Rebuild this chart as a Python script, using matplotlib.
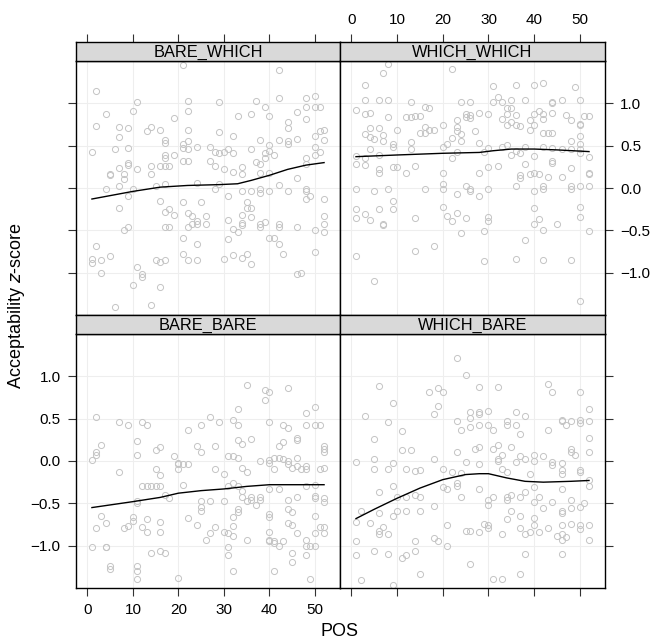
"Acceptability z-score by POS, four conditions"
import numpy as np
import matplotlib
matplotlib.use("Agg")
from matplotlib import pyplot as plt

plt.rcParams['font.family'] = ['Liberation Sans', 'DejaVu Sans']

# panel data: (POS, z-score)
bare_which = [
    (21,1.45),(42,1.39),
    (2,1.14),(42,1.06),(11,1.02),(22,1.03),(29,1.02),(37,1.03),(48,1.06),(50,1.09),(39,0.96),(48,0.96),(50,0.96),(51,0.96),
    (4,0.87),(10,0.91),(22,0.91),(33,0.85),(36,0.87),(40,0.85),(46,0.90),(48,0.81),(19,0.83),(44,0.78),(44,0.71),
    (2,0.73),(7,0.72),(9,0.71),(13,0.67),(14,0.72),(16,0.68),(22,0.69),(29,0.66),(32,0.61),(7,0.60),(17,0.57),(17,0.53),
    (21,0.52),(22,0.55),(38,0.57),(40,0.51),(42,0.57),(44,0.55),(44,0.52),(46,0.58),(50,0.61),(51,0.67),(52,0.68),(52,0.57),
    (1,0.42),(6,0.46),(9,0.47),(19,0.39),(17,0.39),(21,0.47),(22,0.46),(24,0.48),(27,0.48),(28,0.42),(29,0.41),(30,0.42),
    (31,0.46),(32,0.41),(36,0.46),(39,0.41),(40,0.44),(41,0.39),(50,0.48),(50,0.39),(51,0.43),
    (17,0.35),(21,0.32),(22,0.32),(27,0.32),(28,0.26),(30,0.23),(37,0.31),(38,0.28),(39,0.36),(48,0.35),(48,0.28),
    (7,0.24),(9,0.30),(9,0.27),(11,0.22),(14,0.26),(16,0.26),(17,0.26),(18,0.26),(5,0.17),(5,0.15),(8,0.17),(8,0.11),
    (14,0.17),(32,0.19),(34,0.25),(34,0.17),(38,0.18),(40,0.18),(46,0.12),
    (4,-0.01),(7,0.02),(10,-0.01),(9,-0.10),(15,0.02),(17,0.05),(24,0.06),(28,-0.01),(29,0.05),(31,-0.09),(34,-0.04),
    (36,-0.04),(38,-0.01),(38,-0.06),(40,-0.04),(42,0.04),(44,-0.04),(48,-0.01),(48,-0.04),(48,-0.13),(49,-0.09),(52,-0.13),
    (7,-0.24),(16,-0.15),(17,-0.28),(18,-0.25),(19,-0.32),(21,-0.17),(22,-0.30),(23,-0.33),(24,-0.39),(24,-0.42),(23,-0.43),
    (22,-0.46),(25,-0.17),(26,-0.33),(26,-0.42),(17,-0.46),(18,-0.46),(31,-0.38),(32,-0.48),(33,-0.52),(34,-0.44),(34,-0.41),
    (35,-0.17),(35,-0.24),(36,-0.24),(34,-0.32),(36,-0.34),(38,-0.42),(38,-0.46),(39,-0.40),(42,-0.43),(42,-0.46),(46,-0.46),
    (50,-0.50),(52,-0.33),(52,-0.42),(52,-0.52),
    (8,-0.50),(9,-0.46),(21,-0.59),(24,-0.66),(31,-0.60),(40,-0.59),(41,-0.59),(42,-0.66),(2,-0.69),
    (1,-0.84),(1,-0.89),(3,-0.85),(5,-0.80),(11,-0.93),(12,-1.02),(12,-1.05),(15,-0.85),(16,-0.87),(17,-0.85),(21,-0.78),
    (22,-0.85),(24,-0.85),(30,-0.84),(32,-0.79),(34,-0.83),(35,-0.78),(36,-0.90),(43,-0.78),(50,-0.76),
    (3,-1.00),(10,-1.15),(16,-1.17),(46,-1.02),(47,-1.00),(6,-1.40),(14,-1.38),
]

which_which = [
    (8,1.46),(7,1.36),(22,1.41),
    (3,1.22),(31,1.21),(36,1.22),(40,1.22),(42,1.24),(49,1.19),
    (3,1.04),(6,1.04),(8,1.04),(13,1.01),(16,0.96),(17,0.95),(24,1.01),(26,1.02),(32,1.07),(31,1.01),(33,1.01),(34,0.95),
    (35,1.04),(35,0.95),(38,1.04),(44,1.01),(44,1.00),(46,1.04),(50,1.04),
    (1,0.92),(3,0.87),(4,0.88),(8,0.84),(12,0.84),(13,0.84),(14,0.85),(15,0.85),(23,0.80),(25,0.87),(25,0.84),(26,0.86),
    (26,0.83),(28,0.88),(30,0.87),(33,0.82),(34,0.87),(36,0.86),(40,0.87),(41,0.91),(42,0.87),(42,0.81),(39,0.80),(44,0.89),
    (47,0.86),(48,0.80),(50,0.76),(50,0.75),(51,0.85),(52,0.85),(35,0.78),(34,0.75),(36,0.75),(37,0.73),
    (4,0.71),(6,0.71),(3,0.64),(4,0.60),(5,0.58),(7,0.63),(7,0.56),(10,0.68),(16,0.72),(17,0.69),(18,0.68),(16,0.65),
    (15,0.65),(20,0.75),(23,0.72),(23,0.67),(24,0.64),(27,0.67),(24,0.56),(22,0.59),(13,0.54),(42,0.65),(43,0.65),(44,0.65),
    (39,0.69),(40,0.75),(48,0.56),(50,0.62),(50,0.52),
    (1,0.38),(3,0.36),(4,0.46),(6,0.39),(9,0.52),(9,0.48),(13,0.46),(20,0.48),(21,0.52),(22,0.36),(23,0.42),(28,0.53),
    (29,0.42),(30,0.47),(33,0.49),(34,0.51),(35,0.39),(36,0.44),(38,0.48),(37,0.41),(40,0.38),(42,0.48),(44,0.47),(46,0.46),
    (48,0.46),(50,0.46),(50,0.41),(52,0.37),
    (1,0.28),(3,0.27),(6,0.22),(6,0.18),(9,0.25),(10,0.25),(12,0.18),(14,0.26),(20,0.18),(28,0.18),(30,0.25),(32,0.26),
    (38,0.28),(37,0.15),(37,0.12),(39,0.16),(40,0.18),(41,0.17),(43,0.13),(44,0.32),(44,0.29),(46,0.13),(48,0.24),(52,0.18),
    (52,0.16),
    (1,-0.01),(5,-0.04),(8,-0.01),(9,-0.15),(16,-0.01),(20,0.05),(20,-0.01),(23,-0.07),(25,0.02),(26,-0.01),(26,-0.04),
    (28,-0.10),(30,-0.01),(36,0.02),(40,-0.04),(42,-0.01),(42,0.02),(48,0.02),(48,-0.01),(50,0.02),(52,0.02),
    (1,-0.25),(1,-0.35),(3,-0.31),(4,-0.38),(6,-0.25),(7,-0.42),(7,-0.44),(9,-0.25),(14,-0.35),(20,-0.22),(21,-0.33),
    (22,-0.39),(23,-0.29),(25,-0.35),(30,-0.34),(30,-0.39),(40,-0.24),(41,-0.37),(40,-0.42),(45,-0.42),(50,-0.23),(50,-0.34),
    (24,-0.53),(29,-0.51),(42,-0.50),(52,-0.51),(38,-0.61),
    (1,-0.80),(14,-0.74),(18,-0.69),(29,-0.86),(36,-0.84),(42,-0.85),(48,-0.85),
    (5,-1.10),(50,-1.33),
]

bare_bare = [
    (35,0.90),(39,0.84),(40,0.81),(39,0.72),(44,0.86),
    (2,0.52),(7,0.46),(9,0.42),(12,0.46),(13,0.43),(27,0.52),(29,0.46),(32,0.49),(33,0.43),(33,0.61),(40,0.46),(43,0.42),
    (44,0.39),(48,0.57),(48,0.42),(50,0.64),(50,0.42),(51,0.42),(25,0.43),
    (3,0.19),(2,0.11),(2,0.07),(1,0.01),(11,0.24),(11,0.07),(15,0.13),(16,0.16),(19,0.06),(20,-0.02),(20,-0.04),(21,-0.04),
    (22,-0.04),(20,-0.09),(22,0.37),(24,0.18),(25,0.11),(28,0.18),(31,0.06),(32,0.06),(33,0.25),(34,0.20),(33,0.04),
    (36,0.26),(34,-0.08),(35,-0.13),(38,0.00),(40,0.01),(40,-0.02),(41,0.04),(42,0.04),(43,0.02),(44,0.00),(44,-0.04),
    (41,-0.09),(42,0.18),(43,0.23),(46,0.27),(46,0.25),(45,-0.08),(46,0.04),(46,-0.06),(47,-0.09),(48,-0.06),(48,-0.09),
    (51,-0.09),(52,0.18),(52,0.14),(52,0.11),(52,-0.08),(28,-0.10),(30,-0.15),(7,-0.13),
    (12,-0.29),(13,-0.29),(14,-0.30),(15,-0.29),(16,-0.30),(15,-0.09),(16,-0.16),(21,-0.28),(18,-0.44),(17,-0.40),
    (25,-0.47),(25,-0.54),(25,-0.59),(27,-0.47),(30,-0.47),(33,-0.30),(32,-0.26),(31,-0.29),(34,-0.36),(34,-0.42),
    (35,-0.47),(36,-0.43),(36,-0.46),(37,-0.52),(38,-0.43),(38,-0.46),(40,-0.33),(42,-0.33),(44,-0.46),(46,-0.43),
    (48,-0.30),(50,-0.28),(50,-0.41),(50,-0.44),(52,-0.44),(52,-0.48),
    (2,-0.79),(3,-0.65),(4,-0.73),(8,-0.79),(9,-0.77),(10,-0.66),(10,-0.71),(11,-0.47),(11,-0.50),(13,-0.69),(12,-0.78),
    (13,-0.84),(16,-0.72),(16,-0.84),(22,-0.67),(24,-0.75),(26,-0.93),(27,-0.85),(28,-0.78),(30,-0.84),(31,-0.85),
    (32,-0.66),(32,-0.77),(32,-0.88),(33,-0.57),(33,-0.60),(35,-0.93),(40,-0.63),(40,-0.66),(40,-0.84),(40,-0.93),
    (40,-0.95),(41,-0.94),(42,-1.00),(43,-0.95),(44,-0.57),(44,-0.73),(45,-0.75),(45,-0.60),(46,-0.85),(50,-0.65),
    (50,-0.85),(51,-0.78),(52,-0.78),(52,-0.85),(48,-0.93),(48,-1.00),(49,-1.00),(50,-1.00),
    (1,-1.02),(4,-1.01),(4,-1.02),(14,-1.09),(16,-1.06),(17,-1.09),(31,-1.01),(31,-1.11),(41,-0.97),
    (45,-1.09),(45,-1.19),(48,-1.11),(5,-1.24),(5,-1.28),(11,-1.24),(11,-1.30),(11,-1.39),(20,-1.38),(32,-1.30),
    (41,-1.30),(49,-1.39),
]

which_bare = [
    (23,1.22),(25,1.01),(6,0.88),(28,0.87),(32,0.87),(17,0.81),(19,0.86),(20,0.82),(43,0.91),(44,0.81),(50,0.81),
    (9,0.68),(19,0.65),(18,0.55),(3,0.53),(8,0.46),(11,0.35),(23,0.47),(24,0.37),(26,0.58),(26,0.51),(26,0.40),(28,0.58),
    (28,0.55),(28,0.42),(30,0.59),(30,0.42),(31,0.37),(34,0.47),(34,0.42),(36,0.58),(36,0.42),(38,0.53),(37,0.32),
    (43,0.37),(46,0.47),(46,0.48),(47,0.42),(48,0.47),(50,0.48),(50,0.45),(52,0.61),(52,0.47),(52,0.27),
    (5,0.26),(11,0.13),(13,0.13),(23,0.11),(27,0.14),(28,0.17),(31,0.14),(32,0.19),(33,0.07),(32,0.00),(32,0.02),
    (35,0.16),(52,0.11),
    (1,-0.01),(5,0.02),(5,-0.09),(8,-0.09),(9,-0.02),(12,-0.10),(14,-0.12),(15,-0.11),(18,0.02),(20,-0.09),(22,-0.13),
    (24,-0.14),(25,-0.01),(28,-0.04),(33,-0.10),(34,-0.13),(36,-0.01),(37,0.06),(38,0.02),(39,-0.15),(40,0.07),(40,0.00),
    (42,0.06),(44,-0.01),(44,-0.05),(46,-0.02),(46,-0.11),(46,-0.15),(48,0.14),(48,0.11),(49,0.07),(50,-0.11),(50,-0.13),
    (52,-0.22),(52,-0.30),
    (6,-0.37),(9,-0.30),(10,-0.43),(12,-0.42),(15,-0.42),(14,-0.40),(20,-0.31),(21,-0.33),(23,-0.26),(23,-0.29),
    (24,-0.42),(28,-0.33),(30,-0.46),(30,-0.52),(31,-0.42),(34,-0.43),(34,-0.46),(35,-0.40),(37,-0.42),(38,-0.37),
    (40,-0.31),(41,-0.42),(40,-0.48),(42,-0.55),(44,-0.48),(46,-0.33),(48,-0.46),(50,-0.54),(51,-0.50),
    (1,-0.72),(2,-0.59),(4,-0.73),(6,-0.61),(6,-0.83),(6,-0.86),(7,-0.78),(8,-0.86),(9,-0.65),(10,-0.59),(12,-0.59),
    (15,-0.59),(18,-0.53),(21,-0.76),(25,-0.83),(26,-0.83),(28,-0.84),(29,-0.74),(30,-0.76),(30,-0.79),(33,-0.86),
    (35,-0.59),(34,-0.69),(37,-0.65),(37,-0.79),(38,-0.86),(39,-0.84),(40,-0.67),(40,-0.76),(41,-0.84),(43,-0.79),
    (46,-0.59),(46,-0.62),(46,-0.75),(46,-0.86),(45,-0.89),(46,-0.93),(47,-0.90),(48,-0.56),(48,-0.74),(50,-0.76),
    (50,-0.80),(52,-0.76),(52,-0.93),
    (1,-0.94),(1,-1.11),(5,-1.06),(8,-1.10),(11,-1.15),(12,-1.11),(14,-0.95),(14,-1.06),(18,-0.91),(19,-0.94),
    (21,-1.00),(26,-1.22),(38,-1.10),(46,-1.10),
    (2,-1.41),(9,-1.46),(15,-1.33),(31,-1.39),(33,-1.39),(37,-1.33),
]

# smoother curves
smooth_bare_which = [(1,-0.13),(10,-0.04),(16,0.01),(22,0.03),(29,0.04),(33,0.05),(36,0.09),(40,0.15),(44,0.22),(48,0.27),(52,0.30)]
smooth_which_which = [(1,0.37),(10,0.39),(20,0.41),(28,0.42),(31,0.44),(35,0.46),(40,0.46),(45,0.45),(52,0.43)]
smooth_bare_bare = [(1,-0.55),(10,-0.48),(16,-0.43),(20,-0.38),(25,-0.35),(30,-0.33),(35,-0.30),(40,-0.28),(45,-0.28),(52,-0.28)]
smooth_which_bare = [(1,-0.68),(5,-0.57),(10,-0.44),(15,-0.32),(20,-0.22),(25,-0.16),(28,-0.15),(30,-0.15),(34,-0.20),(38,-0.24),(42,-0.25),(48,-0.24),(52,-0.23)]

xticks = [0, 10, 20, 30, 40, 50]
yticks = [-1.0, -0.5, 0.0, 0.5, 1.0]
ytick_labels = ["\u22121.0", "\u22120.5", "0.0", "0.5", "1.0"]
XLIM = (-2.5, 55.5)

W, H = 655, 642
fig = plt.figure(figsize=(W/100, H/100), dpi=100)

def px_box(x0, y0, x1, y1):
    return [x0/W, 1 - y1/H, (x1-x0)/W, (y1-y0)/H]

# name, data, smooth, column, row
panels = [
    ("BARE_WHICH", bare_which, smooth_bare_which, 0, 0),
    ("WHICH_WHICH", which_which, smooth_which_which, 1, 0),
    ("BARE_BARE", bare_bare, smooth_bare_bare, 0, 1),
    ("WHICH_BARE", which_bare, smooth_which_bare, 1, 1),
]
cols = [(76, 340), (340, 605)]
rows = [(42, 61, 315), (315, 334, 588)]
TICK = dict(direction='out', length=5.5, width=0.8, labelsize=11, pad=5.5, color='#333333')

for name, data, smooth, c, r in panels:
    x0, x1 = cols[c]
    st, pt, pb = rows[r]
    ax = fig.add_axes(px_box(x0, pt, x1, pb))
    d = np.array(data)
    s = np.array(smooth)
    ax.grid(True, color='#eeeeee', lw=0.8)
    ax.set_axisbelow(True)
    ax.plot(d[:, 0], d[:, 1], 'o', mfc='none', mec='#c4c4c4', ms=4.4, mew=0.7, zorder=2)
    ax.plot(s[:, 0], s[:, 1], color='black', lw=1.0, zorder=3)
    ax.set_xlim(*XLIM)
    ax.set_ylim(-1.5, 1.5)
    ax.set_xticks(xticks)
    ax.set_yticks(yticks)
    ax.set_yticklabels(ytick_labels)
    for sp in ax.spines.values():
        sp.set_linewidth(1.0)
    ax.tick_params(**TICK, bottom=(r == 1), top=False, left=(c == 0), right=(c == 1),
                   labelbottom=(r == 1 and c == 0), labeltop=False,
                   labelleft=(r == 1 and c == 0), labelright=(r == 0 and c == 1))

    # strip on top of the panel; top-row x ticks sit above it
    sax = fig.add_axes(px_box(x0, st, x1, pt))
    sax.set_facecolor('#d9d9d9')
    sax.set_xlim(*XLIM)
    sax.set_xticks(xticks if r == 0 else [])
    sax.set_yticks([])
    sax.tick_params(**TICK, bottom=False, top=(r == 0), labelbottom=False,
                    labeltop=(r == 0 and c == 1))
    for sp in sax.spines.values():
        sp.set_linewidth(1.0)
    sax.text(0.5, 0.45, name, ha='center', va='center', fontsize=11.8, transform=sax.transAxes)

fig.text(340/W, 1 - 632/H, "POS", ha='center', va='center', fontsize=13)
fig.text(17/W, 1 - 306/H, "Acceptability $\\it{z}$-score", ha='center', va='center',
         rotation=90, fontsize=13)

fig.savefig("out.png", dpi=100)
